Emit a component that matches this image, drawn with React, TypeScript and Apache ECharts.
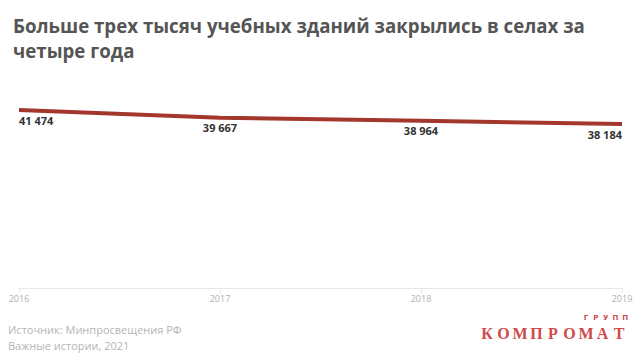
import React, { useEffect, useRef } from "react";
import * as echarts from "echarts";

const years = ["2016", "2017", "2018", "2019"];
const buildings = [41474, 39667, 38964, 38184];
const titleText = "Больше трех тысяч учебных зданий закрылись в селах за\nчетыре года";
const sourceLines = ["Источник: Минпросвещения РФ", "Важные истории, 2021"];
const logoMain = "КОМПРОМАТ";
const logoSmall = "ГРУПП";

const fmt = (v: number) => String(v).replace(/\B(?=(\d{3})+(?!\d))/g, " ");

export default function App() {
  const ref = useRef<HTMLDivElement>(null);
  useEffect(() => {
    if (!ref.current) return;
    const chart = echarts.init(ref.current, undefined, { renderer: "svg" });
    const last = buildings.length - 1;
    const logoEls: any[] = [];
    logoMain.split("").forEach((ch, i) => {
      logoEls.push({
        type: "text",
        x: 487 + i * 16.5,
        y: 333,
        style: {
          text: ch,
          fontFamily: "Liberation Serif",
          fontWeight: "bold",
          fontSize: 16,
          fill: "#cf4a4a",
          align: "center",
          verticalAlign: "middle",
        },
      });
    });
    logoSmall.split("").forEach((ch, i) => {
      logoEls.push({
        type: "text",
        x: 586 + i * 9.8,
        y: 318,
        style: {
          text: ch,
          fontFamily: "DejaVu Sans",
          fontWeight: "bold",
          fontSize: 7,
          fill: "#cf4a4a",
          align: "center",
          verticalAlign: "middle",
        },
      });
    });
    chart.setOption({
      animation: false,
      backgroundColor: "#ffffff",
      title: {
        text: titleText,
        left: 8,
        top: 8,
        textStyle: {
          fontFamily: "Open Sans",
          fontWeight: "bold",
          fontSize: 18.7,
          lineHeight: 25,
          color: "#555555",
        },
      },
      grid: { left: 19, right: 18, top: 110, bottom: 71 },
      xAxis: {
        type: "category",
        data: years,
        boundaryGap: false,
        axisLine: { lineStyle: { color: "#e8e8e8", width: 1 } },
        axisTick: { show: true, length: 5, lineStyle: { color: "#e8e8e8" } },
        axisLabel: {
          color: "#b0b0b0",
          fontSize: 9,
          fontFamily: "Open Sans",
          margin: 6,
        },
        splitLine: { show: false },
      },
      yAxis: {
        type: "value",
        min: 0,
        max: 41474,
        show: false,
        splitLine: { show: false },
      },
      series: [
        {
          type: "line",
          data: buildings.map((v, i) => ({
            value: v,
            label: {
              align: i === 0 ? "left" : i === last ? "right" : "center",
            },
          })),
          symbol: "circle",
          symbolSize: 1,
          showSymbol: true,
          itemStyle: { color: "rgba(0,0,0,0)" },
          lineStyle: { color: "#a3372e", width: 4 },
          label: {
            show: true,
            position: "bottom",
            distance: 4,
            formatter: (p: any) => fmt(p.value),
            fontFamily: "Open Sans",
            fontWeight: "bold",
            fontSize: 11,
            color: "#333333",
          },
        },
      ],
      graphic: [
        {
          type: "text",
          left: 8,
          top: 321,
          style: {
            text: sourceLines.join("\n"),
            fontFamily: "Open Sans",
            fontSize: 11,
            lineHeight: 16,
            fill: "#b5b5b5",
          },
        },
        ...logoEls,
      ],
    });
    return () => chart.dispose();
  }, []);
  return <div ref={ref} style={{ width: 640, height: 359, position: "absolute", left: 0, top: 0 }} />;
}
